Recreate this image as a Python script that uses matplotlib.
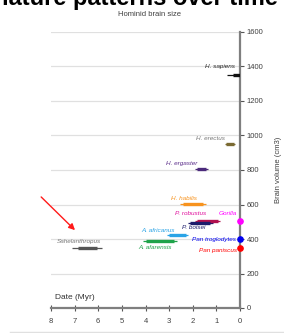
import matplotlib
matplotlib.use("Agg")
import matplotlib.pyplot as plt
from matplotlib.lines import Line2D

plt.rcParams['font.family'] = ['Liberation Sans', 'DejaVu Sans']

# ---- data ----
species = ["H. sapiens", "H. erectus", "H. ergaster", "H. habilis", "P. robustus",
           "P. boisei", "A. africanus", "A. afarensis", "Sahelanthropus"]
range_start = [0.55, 0.64, 1.90, 2.54, 1.90, 2.20, 3.10, 4.10, 7.10]   # Myr (older end)
range_end   = [0.00, 0.21, 1.36, 1.44, 0.85, 1.14, 2.20, 2.67, 5.85]   # Myr (younger end)
core_start  = [0.30, 0.60, 1.80, 2.40, 1.80, 2.10, 3.00, 4.00, 6.86]
core_end    = [0.00, 0.25, 1.45, 1.55, 0.95, 1.25, 2.30, 2.80, 6.06]
volume      = [1351, 951, 805, 603, 506, 491, 423, 388, 348]           # cm3
species_colors = ["#111111", "#7a6a32", "#4b2a7b", "#f7931e", "#b0104e",
                  "#1c1c6b", "#29a3e6", "#1fa34a", "#555555"]
label_colors = ["#222222", "#777777", "#5b2d8a", "#f7931e", "#e0119d",
                "#1c1c6b", "#29a3e6", "#1fa34a", "#777777"]
label_x = [0.20, 0.62, 2.45, 2.37, 2.08, 1.95, 3.47, 3.60, 6.80]
label_y = [1400, 985, 835, 632, 545, 464, 452, 348, 388]
label_ha = ["right", "right", "center", "center", "center", "center", "center",
            "center", "center"]

apes = ["Gorilla", "Pan troglodytes", "Pan paniscus"]
ape_volume = [505, 400, 348]
ape_colors = ["#ff00ff", "#0000ee", "#ff0000"]
ape_label_x = [0.51, 0.15, 0.13]
ape_label_y = [545, 400, 336]

xticks = [8, 7, 6, 5, 4, 3, 2, 1, 0]
yticks = [0, 200, 400, 600, 800, 1000, 1200, 1400, 1600]

# ---- figure ----
fig = plt.figure(figsize=(2.84, 3.33), dpi=100)
ax = fig.add_axes([51/284, 25/333, 189/284, 276/333])
ax.set_xlim(8, 0)
ax.set_ylim(0, 1600)

for spn in ["left", "top"]:
    ax.spines[spn].set_visible(False)
for spn in ["right", "bottom"]:
    ax.spines[spn].set_color("#7f7f7f")
    ax.spines[spn].set_linewidth(1.6)

ax.yaxis.tick_right()
ax.yaxis.set_label_position("right")
ax.set_yticks(yticks)
ax.set_xticks(xticks)
ax.tick_params(axis="y", direction="out", length=3, width=0.8, color="#555555",
               labelsize=5.5, labelcolor="#404040", pad=2)
ax.tick_params(axis="x", direction="inout", length=4, width=0.8, color="#555555",
               labelsize=5.5, labelcolor="#404040", pad=5)
ax.grid(axis="y", color="#e0e0e0", linewidth=0.9)
ax.set_axisbelow(True)
ax.set_ylabel("Brain volume (cm3)", fontsize=5.5, color="#404040", labelpad=8)

# species ranges
for i in range(len(species)):
    ax.plot([range_start[i], range_end[i]], [volume[i], volume[i]],
            color=species_colors[i], lw=0.9, solid_capstyle="butt", zorder=3)
    ax.plot([core_start[i], core_end[i]], [volume[i], volume[i]],
            color=species_colors[i], lw=2.4, solid_capstyle="butt", zorder=4)
    ax.text(label_x[i], label_y[i], species[i], fontsize=4.6, style="italic",
            color=label_colors[i], ha=label_ha[i], va="center", zorder=5)

# apes (modern)
for i in range(len(apes)):
    ax.plot([0], [ape_volume[i]], "o", color=ape_colors[i], ms=3.8,
            clip_on=False, zorder=6)
    ax.text(ape_label_x[i], ape_label_y[i], apes[i], fontsize=4.6, style="italic",
            color=ape_colors[i], ha="right" if i > 0 else "center", va="center", zorder=5)

ax.text(7.85, 40, "Date (Myr)", fontsize=6, color="#333333", ha="left", va="bottom")

# red arrow to Sahelanthropus
ax.annotate("", xy=(6.9, 440), xytext=(8.5, 655),
            arrowprops=dict(arrowstyle="-|>", color="#ff1a1a", lw=1.0,
                            mutation_scale=9),
            annotation_clip=False)

fig.text(150/284, 1 - 15/333, "Hominid brain size", fontsize=5.5, color="#404040",
         ha="center", va="center")

# cut-off slide heading
fig.text(-0.02, 1 - 5/333, "nature patterns over time", fontsize=17, weight="bold",
         color="black", ha="left", va="baseline")

# faint bottom rule
fig.add_artist(Line2D([10/284, 1], [1/333, 1/333], color="#e0e0e0", lw=1,
                      transform=fig.transFigure))

fig.savefig("out.png", dpi=100)
